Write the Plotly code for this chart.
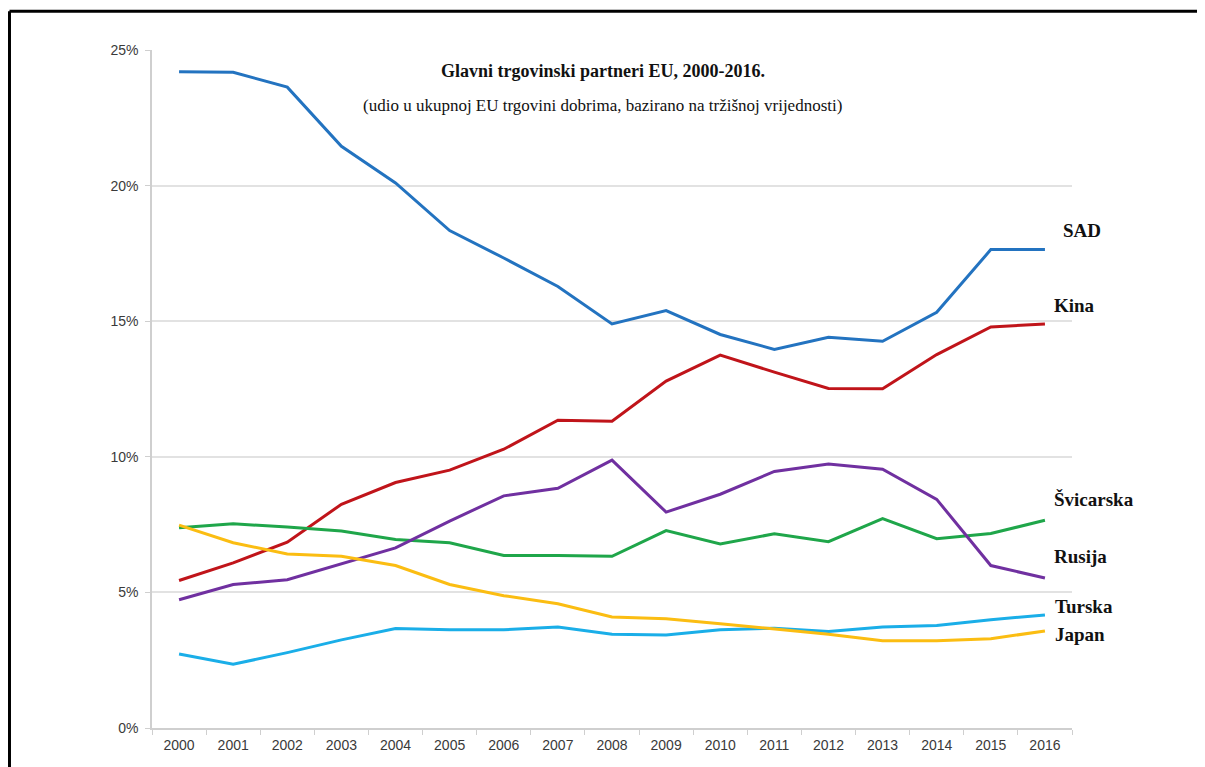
import plotly.graph_objects as go

years = [str(y) for y in range(2000, 2017)]

sad = [24.2, 24.18, 23.63, 21.45, 20.1, 18.34, 17.33, 16.28, 14.9, 15.39, 14.51, 13.96, 14.41, 14.26, 15.33, 17.64, 17.64]
kina = [5.44, 6.09, 6.85, 8.25, 9.05, 9.51, 10.28, 11.35, 11.31, 12.79, 13.75, 13.12, 12.52, 12.51, 13.77, 14.79, 14.9]
rusija = [4.73, 5.29, 5.47, 6.05, 6.64, 7.63, 8.56, 8.84, 9.88, 7.96, 8.62, 9.46, 9.73, 9.54, 8.43, 5.99, 5.53]
svicarska = [7.38, 7.53, 7.41, 7.26, 6.95, 6.83, 6.36, 6.36, 6.33, 7.28, 6.79, 7.16, 6.87, 7.72, 6.98, 7.17, 7.66]
japan = [7.48, 6.83, 6.42, 6.33, 5.99, 5.29, 4.88, 4.58, 4.09, 4.03, 3.84, 3.66, 3.46, 3.22, 3.22, 3.29, 3.58]
turska = [2.73, 2.35, 2.78, 3.25, 3.67, 3.62, 3.62, 3.72, 3.46, 3.43, 3.62, 3.68, 3.56, 3.72, 3.78, 3.99, 4.17]

series_names = ["SAD", "Kina", "Švicarska", "Rusija", "Turska", "Japan"]
series_values = [sad, kina, svicarska, rusija, turska, japan]
series_colors = ["#2373C0", "#C0141A", "#1FA64A", "#7030A0", "#1AAEE8", "#FBBD12"]
label_xshift = [16, 7, 7, 7, 8, 8]
label_yshift = [19, 18, 21, 22, 8, -4]

title_text = "<b>Glavni trgovinski partneri EU, 2000-2016.</b>"
subtitle_text = "(udio u ukupnoj EU trgovini dobrima, bazirano na tržišnoj vrijednosti)"
y_ticks = [0, 5, 10, 15, 20, 25]
y_ticktext = [f"{v}%" for v in y_ticks]

fig = go.Figure()
for name, vals, col in zip(series_names, series_values, series_colors):
    fig.add_trace(go.Scatter(
        x=years, y=vals, mode="lines", name=name,
        line=dict(color=col, width=3),
    ))

annotations = []
last_idx = len(years) - 1
for name, vals, dx, dy in zip(series_names, series_values, label_xshift, label_yshift):
    annotations.append(dict(
        x=last_idx, y=vals[-1], xref="x", yref="y",
        text="<b>" + name + "</b>", showarrow=False,
        xanchor="left", yanchor="middle", xshift=dx, yshift=dy,
        font=dict(family="Liberation Serif", size=19, color="#111111"),
    ))

annotations.append(dict(
    x=0.49, y=0.969, xref="paper", yref="paper", text=title_text,
    showarrow=False, xanchor="center", yanchor="middle",
    font=dict(family="Liberation Serif", size=18, color="#111111"),
))
annotations.append(dict(
    x=0.49, y=0.918, xref="paper", yref="paper", text=subtitle_text,
    showarrow=False, xanchor="center", yanchor="middle",
    font=dict(family="Liberation Serif", size=17, color="#111111"),
))

fig.update_layout(
    width=1197, height=759,
    margin=dict(l=144, r=133, t=42, b=39),
    paper_bgcolor="white", plot_bgcolor="white",
    showlegend=False,
    annotations=annotations,
    font=dict(family="Liberation Sans", size=14, color="#3a3a3a"),
    shapes=[
        dict(type="line", xref="paper", yref="paper", x0=-0.1549, x1=1.3, y0=1.0571, y1=1.0571,
             line=dict(color="black", width=3)),
        dict(type="line", xref="paper", yref="paper", x0=-0.1549, x1=-0.1549, y0=-0.2, y1=1.0571,
             line=dict(color="black", width=3)),
    ],
)

fig.update_xaxes(
    type="category", range=[-0.5, len(years) - 0.5],
    showgrid=False, showline=True, linecolor="#CFCFCF", linewidth=1.5,
    ticks="outside", tickson="boundaries", ticklen=5, tickcolor="#CFCFCF",
    tickangle=0, ticklabelstandoff=3,
    tickfont=dict(family="Liberation Sans", size=14, color="#3a3a3a"),
    zeroline=False,
)
fig.update_yaxes(
    range=[0, 25], tickmode="array", tickvals=y_ticks, ticktext=y_ticktext,
    showgrid=True, gridcolor="#E2E2E2", gridwidth=1.5,
    showline=True, linecolor="#CFCFCF", linewidth=1.5,
    ticks="outside", ticklen=5, tickcolor="#CFCFCF", ticklabelstandoff=4,
    tickfont=dict(family="Liberation Sans", size=14, color="#3a3a3a"),
    zeroline=False,
)

fig.write_html("out.html")
